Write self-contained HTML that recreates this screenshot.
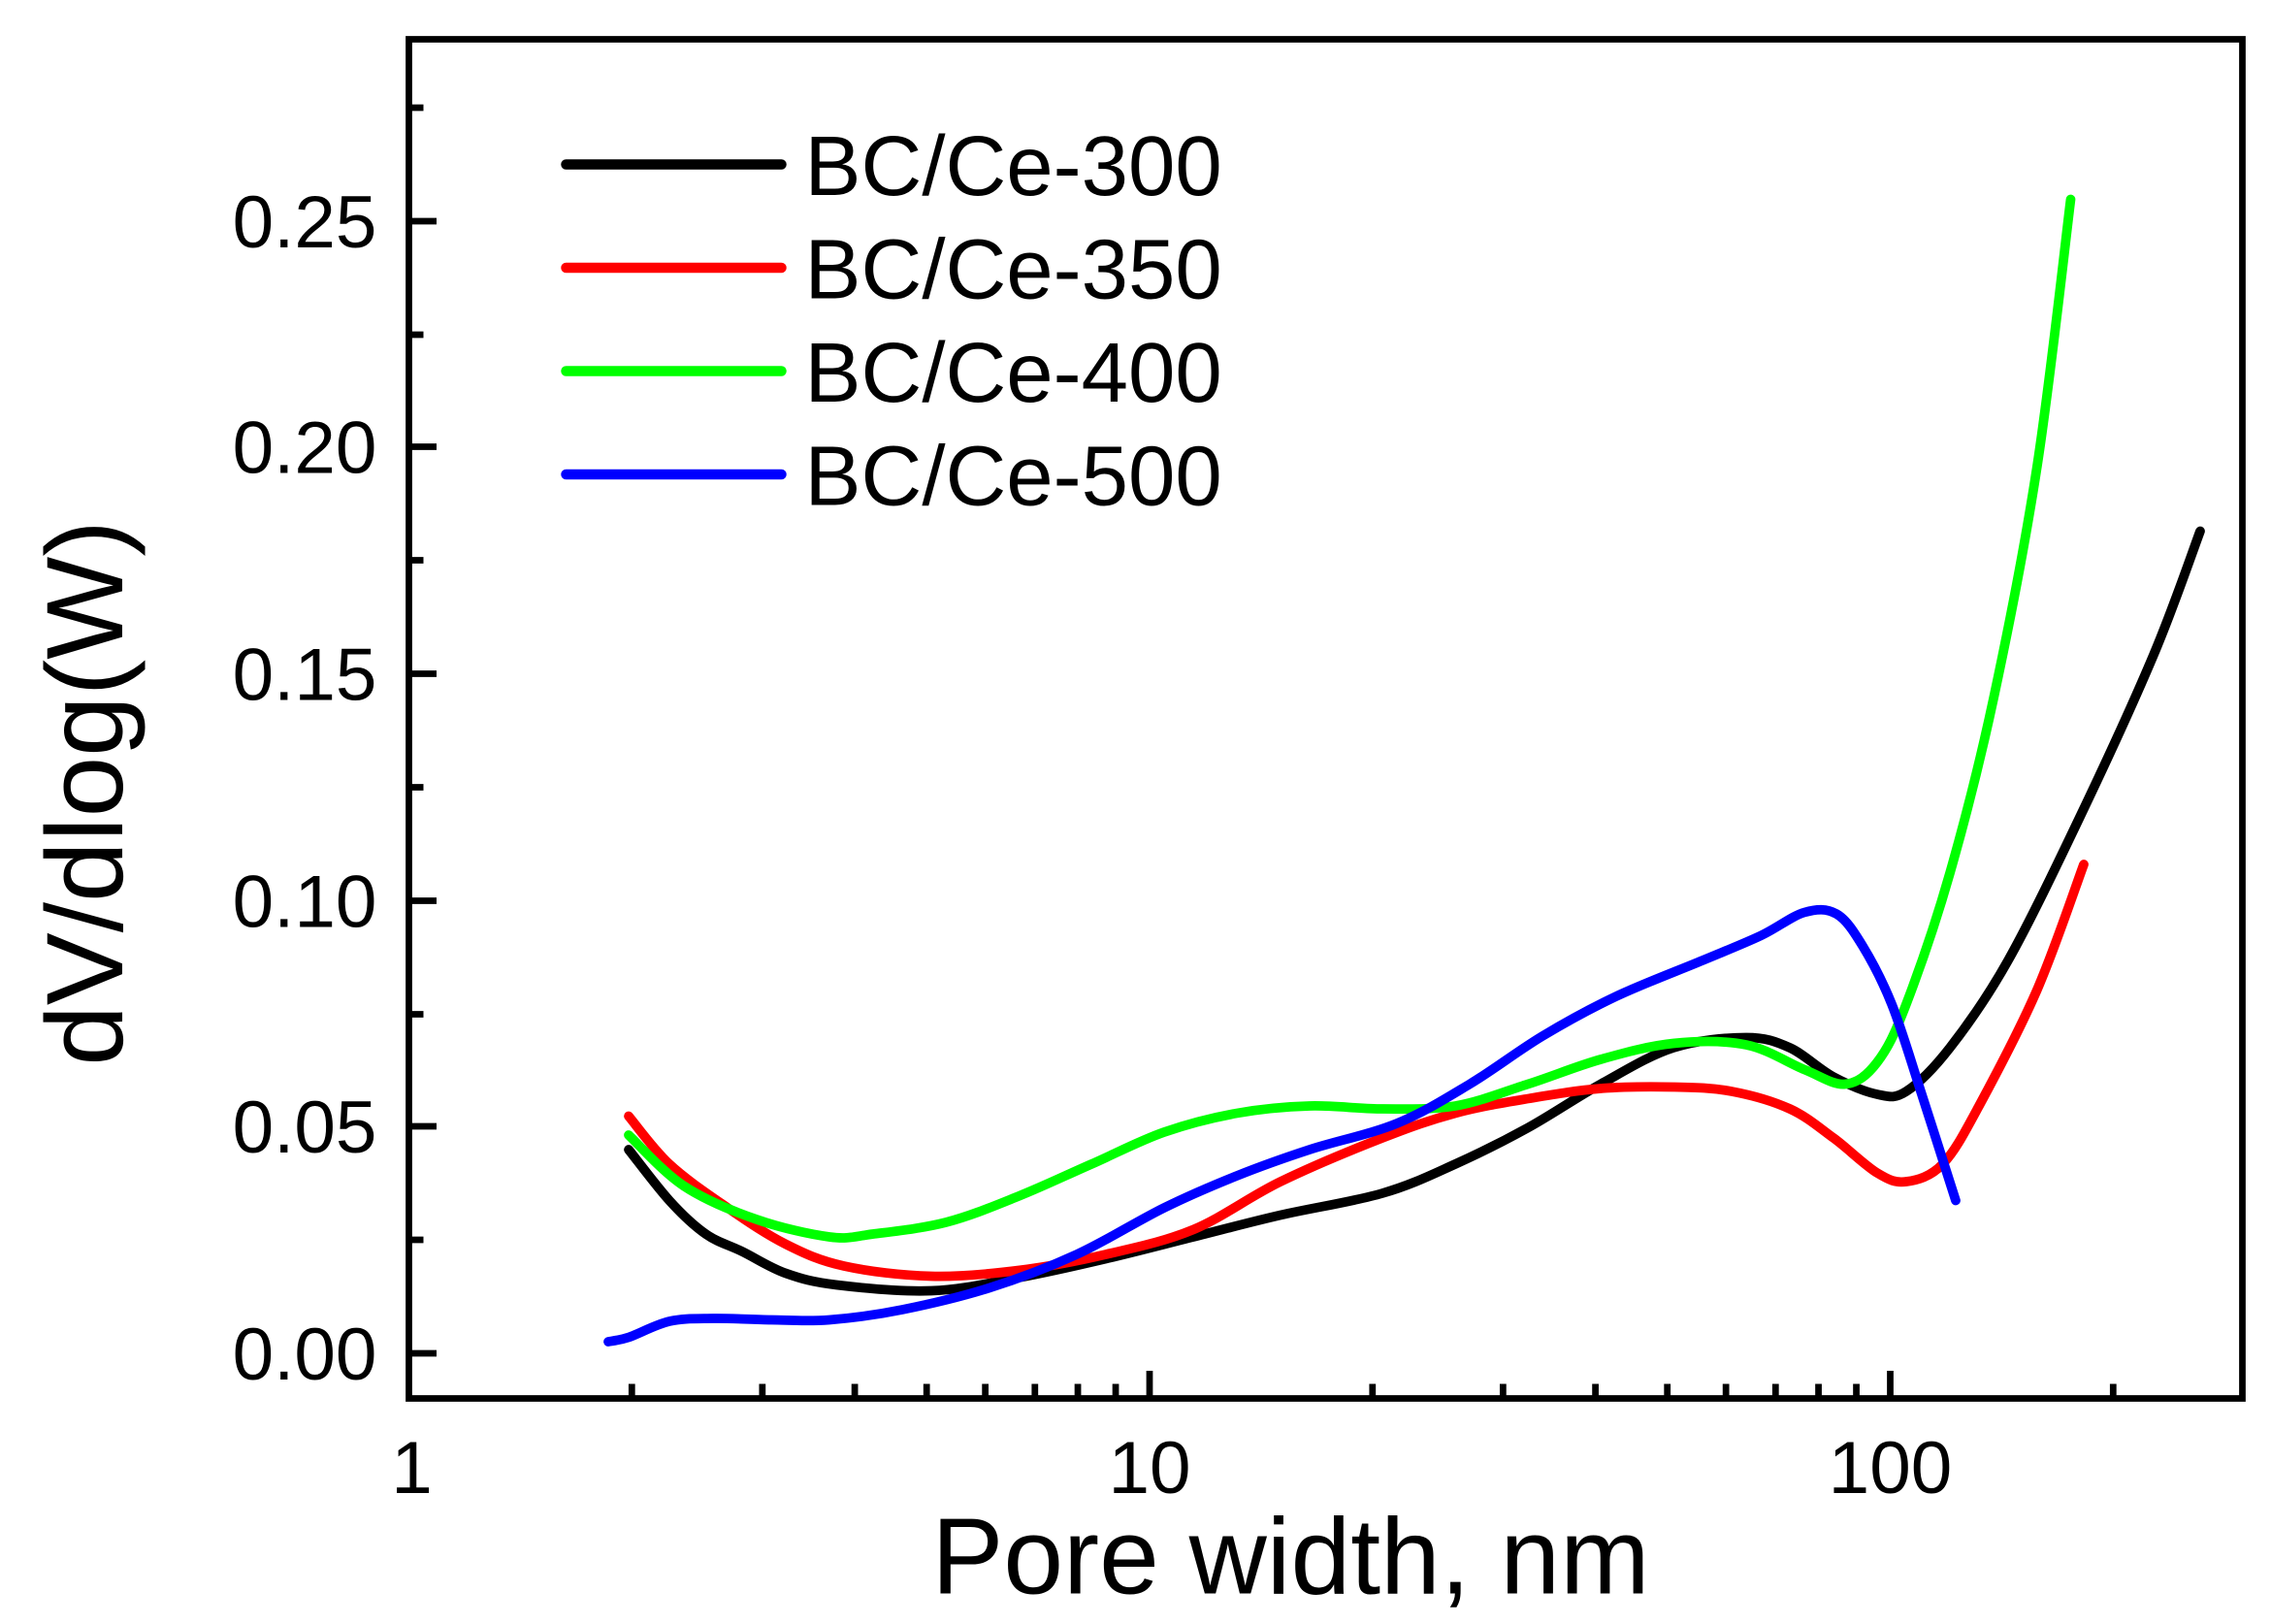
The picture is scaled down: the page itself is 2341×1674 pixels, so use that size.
<!DOCTYPE html>
<html><head><meta charset="utf-8"><style>
html,body{margin:0;padding:0;background:#fff;}
svg{display:block;}
text{font-family:"Liberation Sans",Arial,sans-serif;fill:#000;}
</style></head><body>
<svg width="2341" height="1674" viewBox="0 0 1560.67 1116" xmlns="http://www.w3.org/2000/svg">
<rect x="0" y="0" width="1560.67" height="1116" fill="#fff"/>
<g stroke="#000" stroke-width="4.5" fill="none">
<rect x="281" y="27" width="1260" height="934"/>
<path d="M281 930h19M281 774h19M281 619h19M281 463h19M281 307h19M281 152h19"/>
<path d="M281 852h10M281 697h10M281 541h10M281 385h10M281 230h10M281 74h10"/>
<path d="M790 961v-19M1299 961v-19"/>
<path id="minor" d=""/>
</g>
<g font-size="51" text-anchor="end">
<text x="259" y="948">0.00</text>
<text x="259" y="792">0.05</text>
<text x="259" y="637">0.10</text>
<text x="259" y="481">0.15</text>
<text x="259" y="325">0.20</text>
<text x="259" y="170">0.25</text>
</g>
<g font-size="51" text-anchor="middle">
<text x="283" y="1026">1</text>
<text x="790" y="1026">10</text>
<text x="1299" y="1026">100</text>
</g>
<text x="887" y="1095" font-size="74" text-anchor="middle">Pore width, nm</text>
<text transform="translate(84,545) rotate(-90)" font-size="75" text-anchor="middle">dV/dlog(W)</text>
<g stroke-width="7" stroke-linecap="round">
<line x1="389" y1="113" x2="537" y2="113" stroke="#000"/>
<line x1="389" y1="184" x2="537" y2="184" stroke="#f00"/>
<line x1="389" y1="255" x2="537" y2="255" stroke="#0f0"/>
<line x1="389" y1="326" x2="537" y2="326" stroke="#00f"/>
</g>
<g font-size="58">
<text x="553" y="134">BC/Ce-300</text>
<text x="553" y="205">BC/Ce-350</text>
<text x="553" y="276">BC/Ce-400</text>
<text x="553" y="347">BC/Ce-500</text>
</g>
<g fill="none" stroke-width="6.5" stroke-linecap="round" stroke-linejoin="round">
<path id="cK" stroke="#000"/>
<path id="cR" stroke="#f00"/>
<path id="cG" stroke="#0f0"/>
<path id="cB" stroke="#00f"/>
</g>
</svg>
<script>
(function(){
var d="";var x0=281,dec=509;
[[1,10],[10,100],[100,1000]].forEach(function(r,i){for(var k=2;k<=9;k++){var x=x0+dec*(i+Math.log10(k));if(x<1541)d+="M"+x.toFixed(1)+" 961v-10";}});
document.getElementById("minor").setAttribute("d",d);
function cr(p){var s="M"+p[0][0]+" "+p[0][1];for(var i=0;i<p.length-1;i++){var a=p[i-1]||p[i],b=p[i],c=p[i+1],e=p[i+2]||c;
s+=" C"+(b[0]+(c[0]-a[0])/6).toFixed(1)+" "+(b[1]+(c[1]-a[1])/6).toFixed(1)+" "+(c[0]-(e[0]-b[0])/6).toFixed(1)+" "+(c[1]-(e[1]-b[1])/6).toFixed(1)+" "+c[0]+" "+c[1];}return s;}
var K=[[432,790],[460,825],[485,848],[510,860],[540,875],[575,883],[640,887],[700,878],[760,865],[820,850],[880,835],[950,820],[1000,800],[1050,775],[1100,745],[1150,720],[1200,713],[1230,720],[1260,740],[1290,752],[1310,750],[1340,720],[1380,660],[1430,560],[1480,450],[1512,365]];
var R=[[432,767],[460,800],[500,830],[540,855],[580,870],[640,877],[700,873],[760,862],[820,845],[880,812],[950,782],[1000,765],[1050,755],[1100,748],[1150,747],[1190,750],[1230,762],[1260,782],[1290,806],[1310,812],[1335,800],[1360,760],[1400,680],[1432,594]];
var G=[[432,780],[470,815],[520,838],[570,850],[600,848],[650,840],[700,822],[750,800],[800,778],[850,765],[900,760],[950,762],[1000,760],[1050,745],[1100,728],[1150,717],[1200,718],[1240,735],[1268,745],[1290,730],[1310,690],[1340,600],[1370,480],[1400,320],[1423,137]];
var B=[[418,922],[432,919],[460,908],[490,906],[530,907],[570,907],[620,900],[680,885],[740,862],[800,830],[850,808],[900,790],[960,772],[1010,745],[1060,712],[1110,685],[1170,660],[1210,643],[1240,627],[1262,628],[1280,650],[1300,690],[1320,750],[1344,825]];
document.getElementById("cK").setAttribute("d",cr(K));
document.getElementById("cR").setAttribute("d",cr(R));
document.getElementById("cG").setAttribute("d",cr(G));
document.getElementById("cB").setAttribute("d",cr(B));
})();
</script>
</body></html>
